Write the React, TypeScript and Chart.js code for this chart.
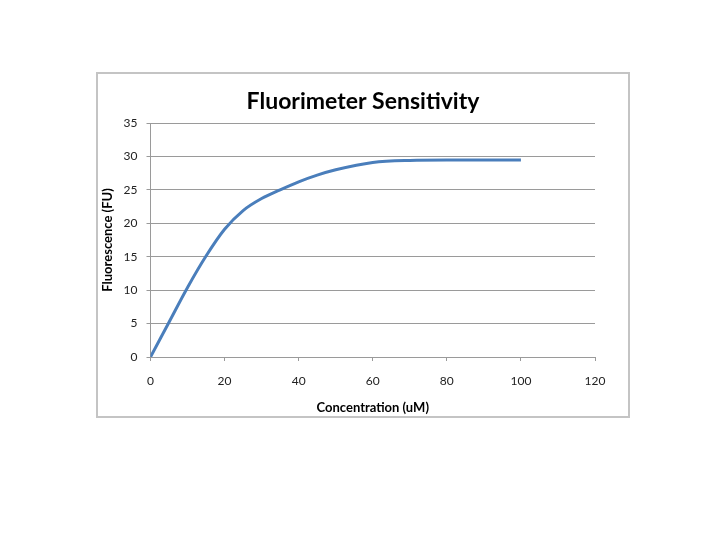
import React, { useEffect, useRef } from "react";
import { Chart, registerables } from "chart.js";

Chart.register(...registerables);

const concentration = [0, 5, 10, 15, 20, 25, 30, 35, 40, 45, 50, 60, 70, 80, 90, 100];
const fluorescence = [0, 5.2, 10.4, 15.1, 19.1, 21.9, 23.7, 25.0, 26.2, 27.2, 28.0, 29.1, 29.4, 29.45, 29.45, 29.45];

const chartTitle = "Fluorimeter Sensitivity";
const xTitle = "Concentration (uM)";
const yTitle = "Fluorescence (FU)";

const FONT = "Lato, 'Open Sans', sans-serif";
const GRID = "#9a9a9a";

export default function App() {
  const ref = useRef<HTMLCanvasElement | null>(null);

  useEffect(() => {
    if (!ref.current) return;
    const data = concentration.map((x, i) => ({ x, y: fluorescence[i] }));
    const chart = new Chart(ref.current, {
      type: "line",
      data: {
        datasets: [
          {
            data,
            borderColor: "#4a7ebb",
            borderWidth: 3,
            pointRadius: 0,
            cubicInterpolationMode: "monotone",
            fill: false,
          },
        ],
      },
      options: {
        animation: false,
        responsive: false,
        maintainAspectRatio: false,
        layout: { padding: 0 },
        plugins: {
          legend: { display: false },
          tooltip: { enabled: false },
          title: {
            display: true,
            text: chartTitle,
            color: "#000",
            font: { family: FONT, size: 23, weight: "bold" },
            padding: { top: 14, bottom: 7.4 },
          },
        },
        scales: {
          x: {
            type: "linear",
            min: 0,
            max: 120,
            ticks: {
              stepSize: 20,
              color: "#222",
              font: { family: FONT, size: 12 },
              padding: 13,
              maxRotation: 0,
            },
            grid: {
              drawOnChartArea: false,
              drawTicks: true,
              tickLength: 4,
              color: GRID,
            },
            border: { color: GRID, width: 1 },
            title: {
              display: true,
              text: xTitle,
              color: "#000",
              font: { family: FONT, size: 13, weight: "bold" },
              padding: { top: 0, bottom: 0 },
            },
            afterFit: (s: any) => {
              s.height = 59;
            },
          },
          y: {
            type: "linear",
            min: 0,
            max: 35,
            ticks: {
              stepSize: 5,
              color: "#222",
              font: { family: FONT, size: 12 },
              padding: 9,
            },
            grid: {
              drawOnChartArea: true,
              drawTicks: true,
              tickLength: 4,
              color: GRID,
            },
            border: { color: GRID, width: 1 },
            title: {
              display: true,
              text: yTitle,
              color: "#000",
              font: { family: FONT, size: 13, weight: "bold" },
              padding: { top: 2.2, bottom: 0 },
            },
            afterFit: (s: any) => {
              s.width = 52.5;
            },
          },
          spacer: {
            type: "linear",
            position: "right",
            display: true,
            min: 0,
            max: 35,
            ticks: { display: false },
            grid: { display: false, drawOnChartArea: false, drawTicks: false },
            border: { display: false },
            afterFit: (s: any) => {
              s.width = 33;
            },
          },
        },
      },
    });
    return () => chart.destroy();
  }, []);

  return (
    <div style={{ position: "absolute", left: 0, top: 0, width: 720, height: 540, background: "#fff" }}>
      <div
        style={{
          position: "absolute",
          left: 96,
          top: 72,
          width: 534,
          height: 346,
          boxSizing: "border-box",
          border: "2px solid #c4c4c4",
          background: "#fff",
        }}
      >
        <canvas ref={ref} width={530} height={342} style={{ display: "block", width: 530, height: 342 }} />
      </div>
    </div>
  );
}
